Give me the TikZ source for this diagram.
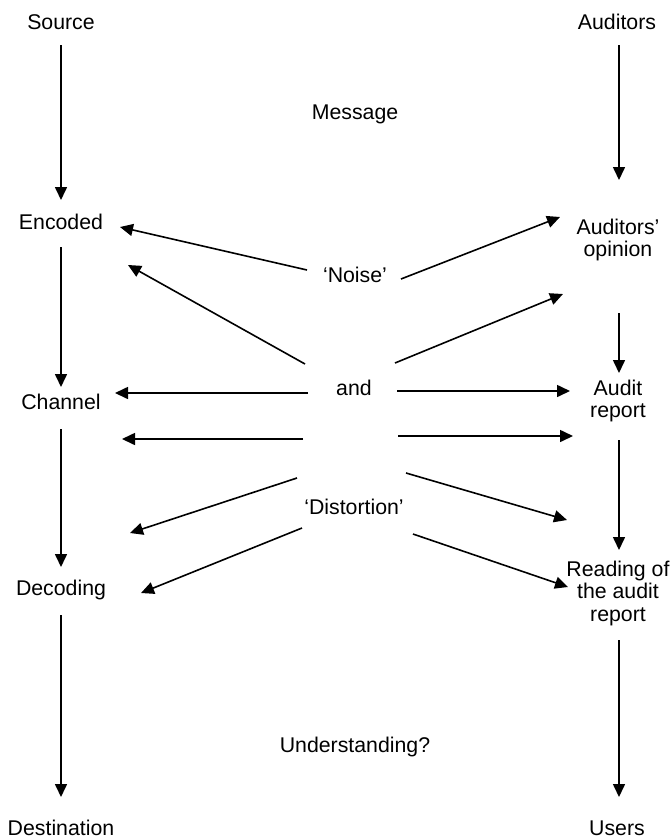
\documentclass[tikz,border=0pt]{standalone}
\usepackage{fontspec}
\setmainfont{Liberation Sans}
\usetikzlibrary{arrows.meta}
\begin{document}
\begin{tikzpicture}[x=1pt,y=-1pt,
  lbl/.style={inner sep=0pt,font=\fontsize{21.3}{22.5}\selectfont},
  one/.style={lbl,anchor=base},
  multi/.style={lbl,align=center,anchor=center},
  flow/.style={line width=1.6pt,-{Triangle[length=13pt,width=12pt]}}]
\useasboundingbox (0,0) rectangle (672,839);

% left column: communication model
\node[one] (source) at (61,29.6) {Source};
\node[one] (encoded) at (61,229.6) {Encoded};
\node[one] (channel) at (61,409.6) {Channel};
\node[one] (decoding) at (61,595) {Decoding};
\node[one] (destination) at (61,835.6) {Destination};

% right column: audit reporting
\node[one] (auditors) at (617,29.6) {Auditors};
\node[multi] (opinion) at (618,240) {Auditors’\\opinion};
\node[multi] (report) at (618,401) {Audit\\report};
\node[multi] (reading) at (618,593) {Reading of\\the audit\\report};
\node[one] (users) at (617,835.6) {Users};

% middle labels
\node[one] (message) at (355,119.6) {Message};
\node[one] (noise) at (355,282.6) {‘Noise’};
\node[one] (and) at (354,395.6) {and};
\node[one] (distortion) at (354,514.6) {‘Distortion’};
\node[one] (understanding) at (355,752.6) {Understanding?};

% arrow end points, left column
\coordinate (l1a) at (61,45);  \coordinate (l1b) at (61,200);
\coordinate (l2a) at (61,247); \coordinate (l2b) at (61,387);
\coordinate (l3a) at (61,429); \coordinate (l3b) at (61,567);
\coordinate (l4a) at (61,615); \coordinate (l4b) at (61,797);
% arrow end points, right column
\coordinate (r1a) at (619,45);  \coordinate (r1b) at (619,180);
\coordinate (r2a) at (619,313); \coordinate (r2b) at (619,373);
\coordinate (r3a) at (619,440); \coordinate (r3b) at (619,550);
\coordinate (r4a) at (619,640); \coordinate (r4b) at (619,797);
% noise and distortion arrows, towards the left
\coordinate (d1a) at (307,270); \coordinate (d1b) at (120,227);
\coordinate (d2a) at (305,364); \coordinate (d2b) at (128,265);
\coordinate (d3a) at (308,393); \coordinate (d3b) at (115,393);
\coordinate (d4a) at (303,439); \coordinate (d4b) at (122,439);
\coordinate (d5a) at (297,478); \coordinate (d5b) at (130,533);
\coordinate (d6a) at (302,528); \coordinate (d6b) at (141,593);
% noise and distortion arrows, towards the right
\coordinate (e1a) at (401,279); \coordinate (e1b) at (560,217);
\coordinate (e2a) at (395,363); \coordinate (e2b) at (563,294);
\coordinate (e3a) at (397,391); \coordinate (e3b) at (570,391);
\coordinate (e4a) at (398,436); \coordinate (e4b) at (573,436);
\coordinate (e5a) at (406,473); \coordinate (e5b) at (567,520);
\coordinate (e6a) at (413,534); \coordinate (e6b) at (568,587);

\foreach \p in {l1,l2,l3,l4,r1,r2,r3,r4,d1,d2,d3,d4,d5,d6,e1,e2,e3,e4,e5,e6}
  \draw[flow] (\p a) -- (\p b);
\end{tikzpicture}
\end{document}
